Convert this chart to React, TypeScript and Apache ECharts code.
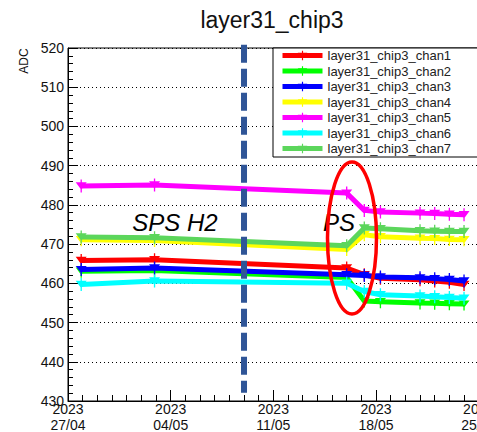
import React, { useEffect, useRef } from "react";
import * as echarts from "echarts";

// days since 27/04/2023
const days = [0.9, 5.9, 19, 20.2, 21.3, 24, 25, 26, 27];
const tickLabels = ["2023\n27/04", "2023\n04/05", "2023\n11/05", "2023\n18/05", "2023\n25/05"];

const chan1 = [465.8, 466.0, 463.9, 462.2, 461.3, 460.9, 460.6, 460.3, 459.7];
const chan2 = [463.1, 463.3, 461.5, 455.5, 455.3, 455.0, 454.9, 454.8, 454.7];
const chan3 = [463.5, 463.9, 462.2, 462.0, 461.6, 461.4, 461.2, 461.0, 460.6];
const chan4 = [471.1, 470.9, 468.6, 472.4, 471.9, 471.5, 471.4, 471.2, 471.1];
const chan5 = [484.8, 485.1, 483.0, 478.6, 478.2, 477.9, 477.8, 477.6, 477.5];
const chan6 = [459.7, 460.6, 460.0, 457.9, 457.1, 456.8, 456.6, 456.4, 456.2];
const chan7 = [471.8, 471.6, 469.6, 474.1, 473.9, 473.4, 473.3, 473.2, 473.2];

const seriesNames = [
  "layer31_chip3_chan1",
  "layer31_chip3_chan2",
  "layer31_chip3_chan3",
  "layer31_chip3_chan4",
  "layer31_chip3_chan5",
  "layer31_chip3_chan6",
  "layer31_chip3_chan7",
];
const seriesValues = [chan1, chan2, chan3, chan4, chan5, chan6, chan7];
const seriesColors = ["#ff0000", "#00ff00", "#0000ff", "#ffff00", "#ff00ff", "#00ffff", "#5cd65c"];

const beamChangeDay = 12;
const beamLineRange = [520.8, 432.1];
const FONT = "Liberation Sans, Arial, Helvetica, sans-serif";
const markerPath = "path://M0,3 L10,3 L5,11 Z M4.4,0 L5.6,0 L5.6,14 L4.4,14 Z";

export default function App() {
  const ref = useRef<HTMLDivElement>(null);
  useEffect(() => {
    if (!ref.current) return;
    const chart = echarts.init(ref.current, null, { renderer: "svg" });
    const series: any[] = seriesNames.map((name, i) => ({
      name,
      type: "line",
      data: days.map((d, j) => [d, seriesValues[i][j]]),
      symbol: markerPath,
      symbolSize: [11, 13],
      showSymbol: true,
      color: seriesColors[i],
      lineStyle: { width: 5, color: seriesColors[i] },
      itemStyle: { color: seriesColors[i] },
      z: 2 + i * 0.01,
    }));
    series.push({
      name: "_beamline",
      type: "line",
      data: beamLineRange.map((v) => [beamChangeDay, v]),
      symbol: "none",
      clip: false,
      z: 5,
      silent: true,
      lineStyle: { color: "#2f5597", width: 6, type: [18, 6] },
    });
    chart.setOption({
      animation: false,
      backgroundColor: "#ffffff",
      grid: {
        left: 68,
        top: 48,
        width: 410.7,
        height: 353,
        outerBoundsMode: "none",
        containLabel: false,
        show: true,
        borderColor: "#000",
        borderWidth: 1,
        backgroundColor: "transparent",
      },
      xAxis: {
        type: "value",
        min: 0,
        max: 28,
        interval: 7,
        axisLine: { show: true, lineStyle: { color: "#000", width: 1 } },
        axisTick: { show: true, inside: true, length: 11, lineStyle: { color: "#000" } },
        minorTick: { show: true, splitNumber: 7, length: 6, lineStyle: { color: "#000" } },
        splitLine: { show: false },
        axisLabel: {
          color: "#111",
          fontFamily: FONT,
          fontSize: 14,
          lineHeight: 16,
          margin: 0,
          hideOverlap: false,
          showMinLabel: true,
          showMaxLabel: true,
          formatter: (v: number) => tickLabels[Math.round(v / 7)] ?? "",
        },
      },
      yAxis: {
        type: "value",
        min: 430,
        max: 520,
        interval: 10,
        axisLine: { show: true, lineStyle: { color: "#000", width: 1 } },
        axisTick: { show: true, inside: true, length: 10, lineStyle: { color: "#000" } },
        minorTick: { show: true, splitNumber: 5, length: 5, lineStyle: { color: "#000" } },
        splitLine: { show: true, lineStyle: { color: "#000", width: 1, type: [1, 3] } },
        axisLabel: { color: "#111", fontFamily: FONT, fontSize: 14, margin: 4, showMinLabel: true, showMaxLabel: true },
      },
      legend: {
        data: seriesNames,
        orient: "vertical",
        left: 280,
        top: 48,
        padding: 0,
        itemWidth: 40,
        itemHeight: 12,
        itemGap: 0.5,
        z: 10,
        lineStyle: { width: 5 },
        textStyle: { fontFamily: FONT, fontSize: 13, color: "#222", lineHeight: 15 },
      },
      graphic: [
        {
          type: "rect",
          z: 8,
          shape: { x: 273, y: 48, width: 230, height: 109 },
          style: { fill: "#fff", stroke: "#000", lineWidth: 1 },
        },
        {
          type: "text",
          z: 20,
          x: 272,
          y: 20,
          style: { text: "layer31_chip3", fontFamily: FONT, fontSize: 23, fill: "#111", align: "center", verticalAlign: "middle" },
        },
        {
          type: "text",
          z: 20,
          x: 24,
          y: 61,
          rotation: Math.PI / 2,
          style: { text: "ADC", fontFamily: FONT, fontSize: 12, fill: "#111", align: "center", verticalAlign: "middle" },
        },
        {
          type: "text",
          z: 20,
          x: 175,
          y: 222,
          style: { text: "SPS H2", fontFamily: FONT, fontSize: 24, fontStyle: "italic", fill: "#000", align: "center", verticalAlign: "middle" },
        },
        {
          type: "text",
          z: 20,
          x: 339,
          y: 222,
          style: { text: "PS", fontFamily: FONT, fontSize: 24, fontStyle: "italic", fill: "#000", align: "center", verticalAlign: "middle" },
        },
        {
          type: "ellipse",
          z: 21,
          shape: { cx: 352, cy: 238, rx: 24.5, ry: 76 },
          style: { fill: "none", stroke: "#ff0000", lineWidth: 3.5 },
        },
      ],
      series,
    });
    return () => chart.dispose();
  }, []);
  return <div ref={ref} style={{ position: "fixed", left: 0, top: 0, width: 477, height: 432 }} />;
}
